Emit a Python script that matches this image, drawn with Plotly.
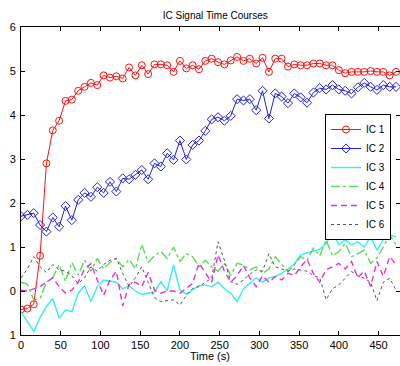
import plotly.graph_objects as go

times = [0, 8, 16, 24, 32, 40, 48, 56, 64, 72, 80, 88, 96, 104, 112, 120, 128, 136, 144, 152,
         160, 168, 176, 184, 192, 200, 208, 216, 224, 232, 240, 248, 256, 264, 272, 280, 288, 296, 304, 312,
         320, 328, 336, 344, 352, 360, 368, 376, 384, 392, 400, 408, 416, 424, 432, 440, 448, 456, 464, 472]

ic1 = [-0.42, -0.40, -0.30, 0.80, 2.90, 3.65, 3.87, 4.32, 4.35, 4.55, 4.64, 4.73, 4.68, 4.90, 4.85, 4.88, 4.83, 5.08, 4.90, 5.13,
       4.93, 5.15, 5.15, 5.13, 4.98, 5.23, 5.06, 5.13, 5.04, 5.23, 5.28, 5.20, 5.15, 5.24, 5.32, 5.23, 5.28, 5.17, 5.30, 4.98,
       5.28, 5.28, 5.10, 5.15, 5.13, 5.13, 5.17, 5.17, 5.13, 5.13, 5.02, 4.95, 4.98, 4.98, 4.98, 5.00, 4.98, 4.98, 4.90, 4.98]

ic2 = [1.70, 1.73, 1.77, 1.50, 1.35, 1.67, 1.46, 1.93, 1.61, 2.07, 2.23, 2.14, 2.36, 2.23, 2.48, 2.26, 2.56, 2.54, 2.64, 2.75,
       2.54, 2.90, 2.83, 3.13, 2.98, 3.42, 2.99, 3.32, 3.42, 3.64, 3.90, 3.95, 3.87, 3.98, 4.36, 4.33, 4.36, 4.11, 4.55, 3.92,
       4.49, 4.42, 4.27, 4.49, 4.40, 4.28, 4.51, 4.61, 4.58, 4.68, 4.58, 4.55, 4.49, 4.63, 4.73, 4.64, 4.57, 4.68, 4.64, 4.64]

ic3 = [-0.47, -0.70, -0.92, -0.60, -0.35, -0.17, -0.62, -0.43, -0.47, -0.05, 0.12, -0.24, 0.10, 0.25, 0.22, 0.20, 0.05, 0.12, 0.00, -0.08,
       -0.05, -0.02, 0.21, 0.01, 0.59, 0.02, -0.07, 0.02, 0.12, 0.14, 0.10, 0.20, 0.05, -0.05, -0.24, 0.05, 0.18, 0.30, 0.20, 0.30,
       0.33, 0.40, 0.50, 0.62, 0.82, 0.86, 0.90, 0.95, 1.08, 1.33, 1.05, 1.16, 1.05, 1.12, 1.00, 1.23, 0.93, 1.16, 1.27, 1.23]

ic4 = [0.20, 0.15, -0.20, -0.17, 0.20, 0.30, 0.60, 0.22, 0.65, 0.36, 0.70, 0.45, 0.74, 0.50, 0.65, 0.74, 0.55, 0.72, 0.50, 1.06,
       0.65, 0.80, 0.90, 0.74, 1.00, 0.67, 0.85, 0.78, 0.55, 0.70, 0.55, 0.45, 0.62, 0.36, 0.63, 0.59, 0.48, 0.55, 0.40, 0.50,
       0.78, 0.60, 0.44, 0.60, 0.78, 0.70, 0.97, 0.80, 1.16, 0.80, 0.89, 1.08, 0.78, 0.85, 0.93, 0.63, 0.75, 1.00, 1.27, 1.05]

ic5 = [0.02, 0.00, 0.05, 0.10, 0.20, 0.30, 0.10, -0.05, 0.02, 0.20, 0.50, 0.62, 0.25, -0.10, 0.25, 0.45, -0.34, 0.15, 0.20, 0.10,
       0.42, 0.02, -0.05, 0.00, 0.00, -0.05, 0.06, 0.17, 0.63, 0.40, 0.20, 0.82, 0.45, 0.20, 0.35, 0.58, 0.30, 0.10, 0.35, 0.20,
       0.33, 0.25, 0.40, 0.35, 0.55, 0.72, 0.40, 0.20, 0.48, 0.55, 0.63, 0.50, 0.67, 0.30, 0.45, 0.10, 0.67, 0.33, 0.78, 0.60]

ic6 = [0.30, 0.50, 0.78, 0.55, 0.42, 0.60, 0.48, 0.45, 0.35, 0.17, 0.30, 0.55, 0.45, 0.60, 0.70, 0.74, 0.40, 0.10, 0.30, 0.55,
       0.20, -0.15, -0.24, -0.22, -0.20, -0.32, -0.10, 0.06, 0.10, 0.20, 0.29, 1.12, 0.70, 0.21, 0.15, 0.25, 0.38, 0.48, 0.45, 0.85,
       0.55, 0.50, 0.45, 0.50, 0.48, 0.45, 0.35, 0.30, -0.20, 0.05, 0.14, 0.30, 0.44, 0.35, 0.29, 0.20, -0.22, 0.20, 0.29, 0.02]

x_ticks = [0, 50, 100, 150, 200, 250, 300, 350, 400, 450]
y_ticks = [-1, 0, 1, 2, 3, 4, 5, 6]
y_tick_text = ["1", "0", "1", "2", "3", "4", "5", "6"]

font = "Liberation Sans, Arial, sans-serif"

fig = go.Figure()
fig.add_trace(go.Scatter(x=times, y=ic1, name="IC 1", mode="lines+markers",
                         line=dict(color="#ff1010", width=1),
                         marker=dict(symbol="circle-open", size=7, color="#ff1010", line=dict(width=1))))
fig.add_trace(go.Scatter(x=times, y=ic2, name="IC 2", mode="lines+markers",
                         line=dict(color="#2020e8", width=1),
                         marker=dict(symbol="diamond-open", size=7, color="#2020e8", line=dict(width=1))))
fig.add_trace(go.Scatter(x=times, y=ic3, name="IC 3", mode="lines",
                         line=dict(color="#33eef8", width=1.4)))
fig.add_trace(go.Scatter(x=times, y=ic4, name="IC 4", mode="lines",
                         line=dict(color="#55dd55", width=1.4, dash="dashdot")))
fig.add_trace(go.Scatter(x=times, y=ic5, name="IC 5", mode="lines",
                         line=dict(color="#e030e0", width=1.4, dash="6px,4px")))
fig.add_trace(go.Scatter(x=times, y=ic6, name="IC 6", mode="lines",
                         line=dict(color="#555555", width=1, dash="dot")))

axis_common = dict(showgrid=False, zeroline=False, showline=True, linecolor="black", linewidth=1,
                   mirror="allticks", ticks="inside", ticklen=4, tickcolor="black", automargin=False,
                   tickfont=dict(family=font, size=11, color="black"))

fig.update_layout(
    width=400, height=366,
    margin=dict(l=21, r=0, t=27, b=31, autoexpand=False),
    paper_bgcolor="white", plot_bgcolor="white",
    title=dict(text="IC Signal Time Courses", x=205 / 400, xanchor="center", y=1 - 15 / 366, yanchor="middle",
               xref="paper", yref="container",
               font=dict(family=font, size=10, color="black")),
    xaxis=dict(range=[0, 477], tickvals=x_ticks, ticklabelstandoff=0, **axis_common),
    yaxis=dict(range=[-1, 6], tickvals=y_ticks, ticktext=y_tick_text, ticklabelstandoff=2, **axis_common),
    annotations=[dict(text="Time (s)", x=(210 - 21) / 379, y=-21 / 308, xref="paper", yref="paper",
                      xanchor="center", yanchor="middle", showarrow=False,
                      font=dict(family=font, size=11, color="black"))],
    legend=dict(x=(391 - 21) / 379, y=(335 - 114) / 308, xanchor="right", yanchor="top",
                bgcolor="white", bordercolor="black", borderwidth=1,
                font=dict(family=font, size=10, color="black"), tracegroupgap=0),
    showlegend=True,
)

fig.write_html("out.html", config={"displayModeBar": False},
               post_script="document.body.style.margin='0px';document.body.style.overflow='hidden';")
